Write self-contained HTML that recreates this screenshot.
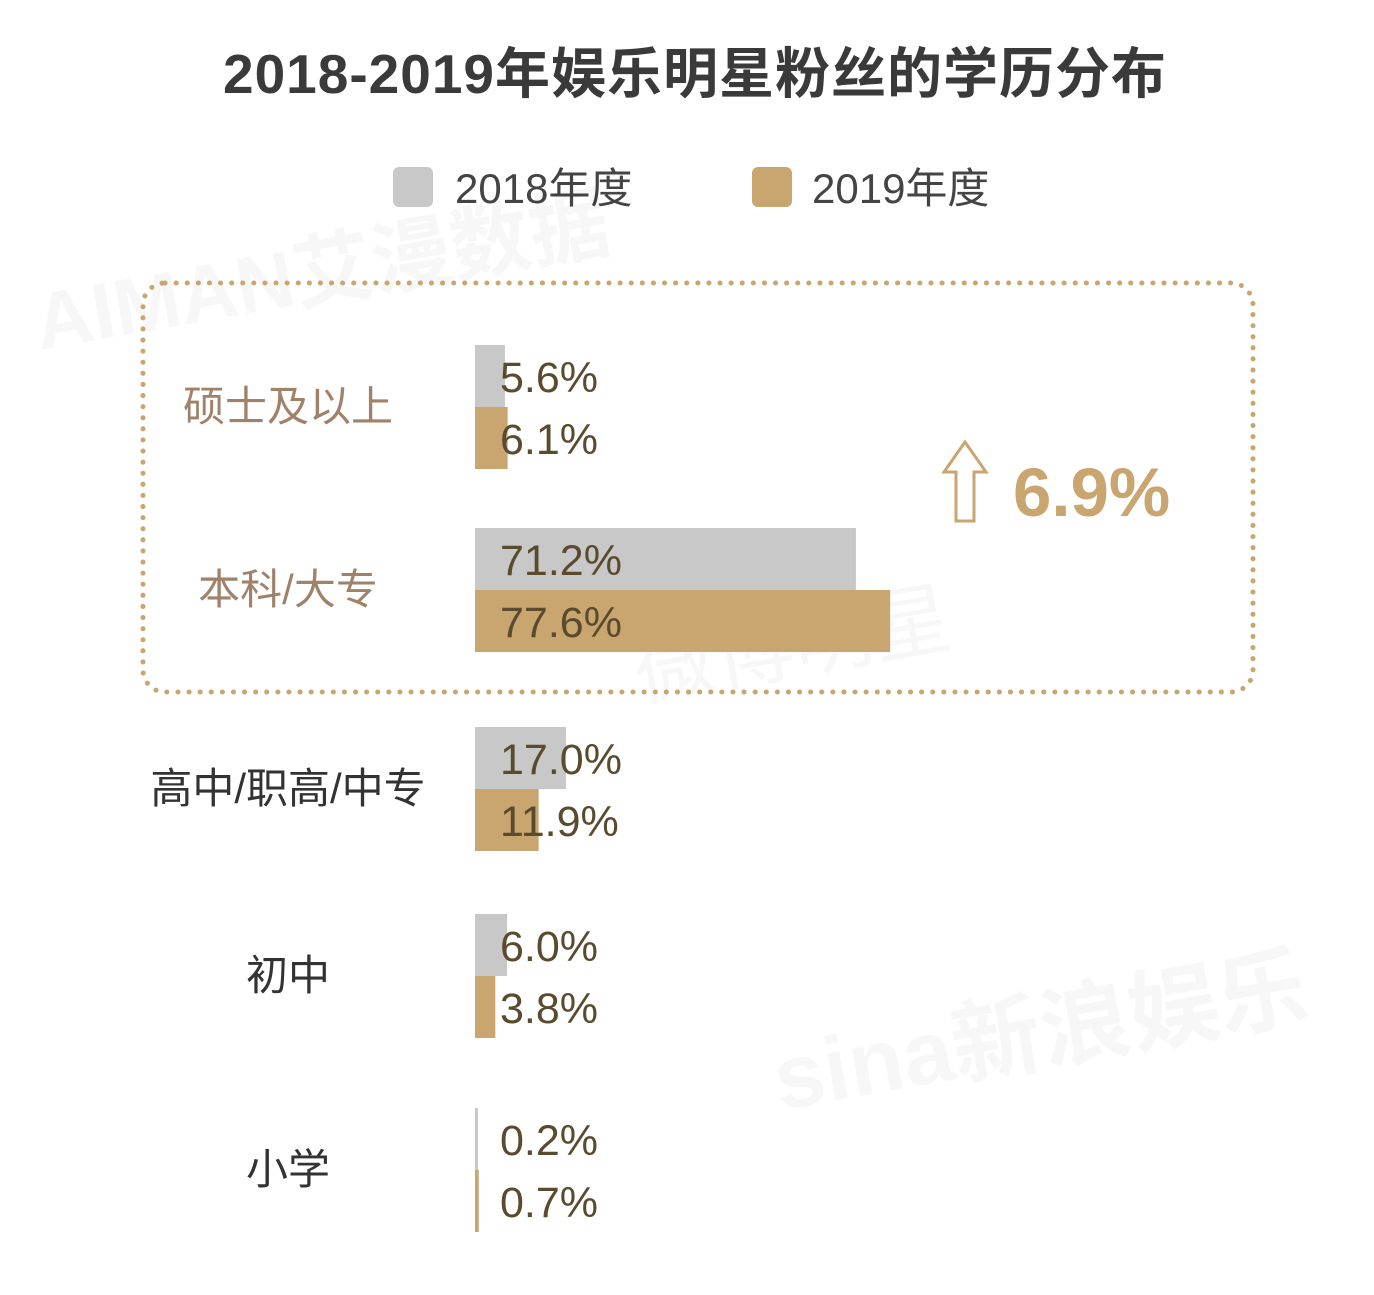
<!DOCTYPE html>
<html><head><meta charset="utf-8">
<style>
body{margin:0;background:#fff;width:1374px;height:1290px;overflow:hidden;font-family:"Liberation Sans","Noto Sans CJK SC",sans-serif;}
svg text{font-family:"Liberation Sans","Noto Sans CJK SC",sans-serif;}
</style></head>
<body>
<svg id="chart" width="1374" height="1290">
<text x="695" y="93" text-anchor="middle" font-size="55" font-weight="bold" fill="#3a3a3a" letter-spacing="1">2018-2019年娱乐明星粉丝的学历分布</text>
<g>
<rect x="393" y="167" width="40" height="40" rx="6" fill="#c8c8c8"/>
<text x="455" y="203" font-size="42" fill="#444">2018年度</text>
<rect x="752" y="167" width="40" height="40" rx="6" fill="#c9a56f"/>
<text x="812" y="203" font-size="42" fill="#444">2019年度</text>
</g>
<g opacity="0.035" fill="#000">
<text x="40" y="350" font-size="80" font-weight="bold" transform="rotate(-10 40 350)">AIMAN艾漫数据</text>
<text x="640" y="700" font-size="80" transform="rotate(-10 640 700)">微博明星</text>
<text x="780" y="1110" font-size="90" font-weight="bold" transform="rotate(-10 780 1110)">sina新浪娱乐</text>
</g>
<rect x="143" y="283" width="1110" height="409" rx="22" fill="none" stroke="#c9a56f" stroke-width="5" stroke-dasharray="0.1 11" stroke-linecap="round"/>
<path d="M965 442 L986 472 L974 472 L974 521 L956 521 L956 472 L944 472 Z" fill="none" stroke="#c9a56f" stroke-width="3"/>
<text x="1013" y="516" font-size="69" font-weight="bold" fill="#c9a56f">6.9%</text>
<g id="bars"></g>
</svg>
<script>
const categories=["硕士及以上","本科/大专","高中/职高/中专","初中","小学"];
const values2018=[5.6,71.2,17.0,6.0,0.2];
const values2019=[6.1,77.6,11.9,3.8,0.7];
const labels2018=["5.6%","71.2%","17.0%","6.0%","0.2%"];
const labels2019=["6.1%","77.6%","11.9%","3.8%","0.7%"];
const catColors=["#a0826a","#a0826a","#333","#333","#333"];
const NS="http://www.w3.org/2000/svg";
const g=document.getElementById('bars');
const x0=475, k=5.35, bh=62;
const tops=[345,528,727,914,1108];
function xs(v){return v*k;}
function mk(tag,attrs){const e=document.createElementNS(NS,tag);for(const a in attrs)e.setAttribute(a,attrs[a]);g.appendChild(e);return e;}
categories.forEach((c,i)=>{
  const top=tops[i];
  const b1=mk('rect',{x:x0,y:top,width:Math.max(xs(values2018[i]),3),height:bh,fill:'#c8c8c8'});
  
  
  const b2=mk('rect',{x:x0,y:top+bh,width:Math.max(xs(values2019[i]),3),height:bh,fill:'#c9a56f'});
  
  
  const t1=mk('text',{x:500,y:top+47,'font-size':43,fill:'#5a4a2e'});t1.textContent=labels2018[i];
  
  
  const t2=mk('text',{x:500,y:top+bh+47,'font-size':43,fill:'#5a4a2e'});t2.textContent=labels2019[i];
  
  
  const tc=mk('text',{x:288,y:top+bh+14,'font-size':42,fill:catColors[i],'text-anchor':'middle'});tc.textContent=c;
  
  
});
</script>
</body></html>
